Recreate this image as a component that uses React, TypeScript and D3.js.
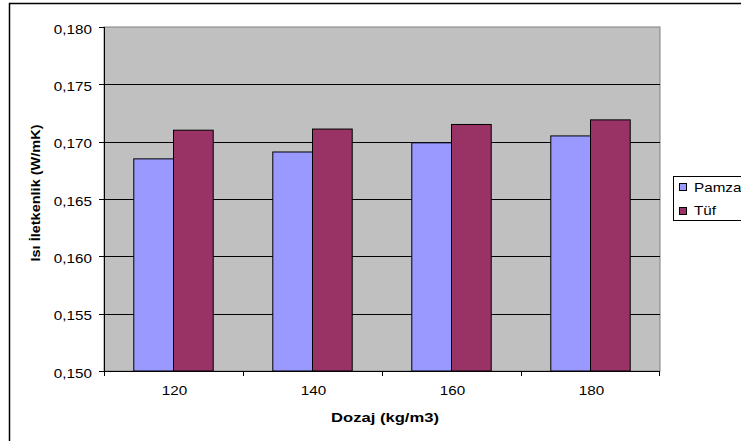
import React from "react";
import * as d3 from "d3";

const categories = ["120", "140", "160", "180"];
const seriesNames = ["Pamza", "Tüf"];
const pamza = [0.1685, 0.1691, 0.1699, 0.1705];
const tuf = [0.171, 0.1711, 0.1715, 0.1719];
const yTicks = [0.15, 0.155, 0.16, 0.165, 0.17, 0.175, 0.18];
const colors = ["#9999FF", "#993366"];

const W = 741;
const H = 441;
const plot = { left: 104, top: 27, right: 660, bottom: 371 };
const font = "Arial, 'Liberation Sans', sans-serif";
const fs = 12.5;
const stretch = 1.22;

// Horizontally widened label anchored at (x, y)
function Label(props: {
  x: number;
  y: number;
  anchor: "start" | "middle" | "end";
  children: React.ReactNode;
}) {
  return (
    <g transform={`translate(${props.x},${props.y}) scale(${stretch},1)`}>
      <text x={0} y={0} textAnchor={props.anchor} fontSize={fs} fill="#000">
        {props.children}
      </text>
    </g>
  );
}

export default function App() {
  const x0 = d3
    .scaleBand<string>()
    .domain(categories)
    .range([plot.left, plot.right])
    .paddingInner(0)
    .paddingOuter(0);
  const y = d3.scaleLinear().domain([0.15, 0.18]).range([plot.bottom, plot.top]);
  const group = x0.bandwidth();
  const barW = group / 3.5;
  const fmt = (v: number) => d3.format(".3f")(v).replace(".", ",");
  const series = [pamza, tuf];

  return (
    <svg
      width={W}
      height={H}
      style={{ position: "absolute", left: 0, top: 0, background: "#fff" }}
      fontFamily={font}
    >
      {/* chart frame */}
      <rect x={9.5} y={3.5} width={760} height={460} fill="#fff" stroke="#000" strokeWidth={1.5} />
      {/* plot area */}
      <rect
        x={plot.left}
        y={plot.top}
        width={plot.right - plot.left}
        height={plot.bottom - plot.top}
        fill="#C0C0C0"
        stroke="#808080"
        strokeWidth={1}
      />
      {yTicks.map((t) => (
        <g key={t}>
          {t > 0.15 && t < 0.18 && (
            <line x1={plot.left} x2={plot.right} y1={Math.round(y(t)) + 0.5} y2={Math.round(y(t)) + 0.5} stroke="#000" strokeWidth={1} />
          )}
          <line x1={plot.left - 5} x2={plot.left} y1={Math.round(y(t)) + 0.5} y2={Math.round(y(t)) + 0.5} stroke="#000" />
          <Label x={plot.left - 12} y={y(t) + 6.5} anchor="end">
            {fmt(t)}
          </Label>
        </g>
      ))}
      {/* bars */}
      {categories.map((c, i) =>
        series.map((s, k) => {
          const bx = (x0(c) as number) + (group - 2 * barW) / 2 + k * barW;
          return (
            <rect
              key={c + k}
              x={bx}
              y={y(s[i])}
              width={barW}
              height={plot.bottom - y(s[i])}
              fill={colors[k]}
              stroke="#000"
              strokeWidth={1}
            />
          );
        })
      )}
      {/* axes */}
      <line x1={plot.left + 0.5} x2={plot.left + 0.5} y1={plot.top} y2={plot.bottom} stroke="#000" />
      <line x1={plot.left} x2={plot.right} y1={plot.bottom + 0.5} y2={plot.bottom + 0.5} stroke="#000" />
      {categories.map((c, i) => (
        <g key={c}>
          <line
            x1={Math.round(x0(c) as number) + 0.5}
            x2={Math.round(x0(c) as number) + 0.5}
            y1={plot.bottom}
            y2={plot.bottom + 5}
            stroke="#000"
          />
          {i === categories.length - 1 && (
            <line x1={plot.right - 0.5} x2={plot.right - 0.5} y1={plot.bottom} y2={plot.bottom + 5} stroke="#000" />
          )}
          <Label x={(x0(c) as number) + group / 2 + 1} y={395} anchor="middle">
            {c}
          </Label>
        </g>
      ))}
      <text
        x={385}
        y={422}
        textAnchor="middle"
        fontSize={fs}
        fontWeight="bold"
        fill="#000"
        textLength={108}
        lengthAdjust="spacingAndGlyphs"
      >
        Dozaj (kg/m3)
      </text>
      <text
        transform={`translate(40, 193) rotate(-90)`}
        textAnchor="middle"
        fontSize={fs}
        fontWeight="bold"
        fill="#000"
        textLength={137}
        lengthAdjust="spacingAndGlyphs"
      >
        Isı İletkenlik (W/mK)
      </text>
      {/* legend */}
      <rect x={673.5} y={176.5} width={80} height={44} fill="#fff" stroke="#000" />
      {seriesNames.map((n, k) => (
        <g key={n}>
          <rect x={679.5} y={183.5 + k * 24} width={7} height={7} fill={colors[k]} stroke="#000" />
          <Label x={694} y={191.7 + k * 23.5} anchor="start">
            {n}
          </Label>
        </g>
      ))}
    </svg>
  );
}
